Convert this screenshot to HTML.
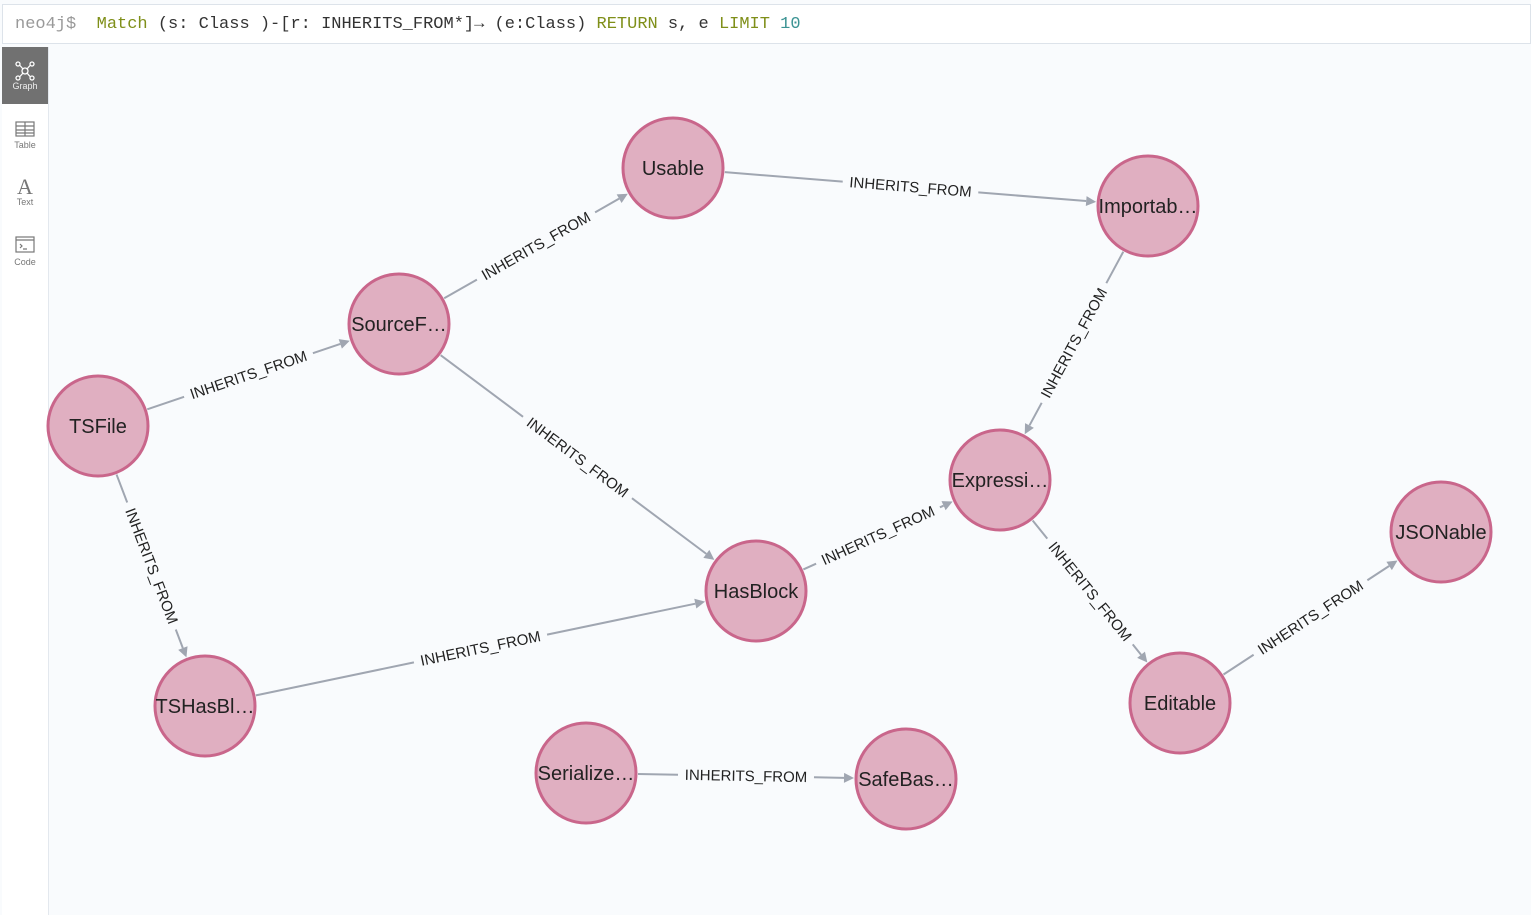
<!DOCTYPE html>
<html><head><meta charset="utf-8"><style>
html,body{margin:0;padding:0;width:1531px;height:915px;overflow:hidden;background:#f9fbfd;font-family:"Liberation Sans",sans-serif}
#top{position:absolute;left:2px;top:4px;width:1529px;height:40px;background:#fff;border:1px solid #dde3ea;box-sizing:border-box;font-family:"Liberation Mono",monospace;font-size:17px;line-height:39px;padding-left:12px;color:#333;white-space:pre}
.g{color:#999}.k{color:#7f8f19}.n{color:#3c9494}
#side{position:absolute;left:2px;top:47px;width:46px;height:868px;background:#fff;border-right:1px solid #e3e8ee}
.it{position:absolute;left:0;width:46px;text-align:center;font-size:9px;color:#777}
#cv{position:absolute;left:0;top:0}
</style></head><body>
<div id="top"><span class="g">neo4j$</span>  <span class="k">Match</span> (s: Class )-[r: INHERITS_FROM*]→ (e:Class) <span class="k">RETURN</span> s, e <span class="k">LIMIT</span> <span class="n">10</span></div>
<div id="side">
 <div class="it" style="top:0;height:57px;background:#717171;color:#eee">
  <svg width="24" height="24" viewBox="0 0 24 24" style="margin-top:12px" stroke="#fff" fill="none" stroke-width="1.3"><circle cx="12" cy="12" r="3"/><circle cx="5" cy="5" r="2"/><circle cx="19" cy="5" r="2"/><circle cx="5" cy="19" r="2"/><circle cx="19" cy="19" r="2"/><path d="M7 6.5l3 3.5M17 6.5l-3 3.5M7 17.5l3-3.5M17 17.5l-3-3.5"/></svg>
  <div style="margin-top:-4px">Graph</div></div>
 <div class="it" style="top:73px"><svg width="22" height="18" viewBox="0 0 22 18" fill="none" stroke="#777" stroke-width="1.2"><rect x="2" y="2" width="18" height="14"/><path d="M2 6h18M2 10h18M2 13h18M11 2v14"/></svg><div>Table</div></div>
 <div class="it" style="top:130px"><div style="font-family:'Liberation Serif',serif;font-size:22px;line-height:20px">A</div><div>Text</div></div>
 <div class="it" style="top:188px"><svg width="22" height="20" viewBox="0 0 22 20" fill="none" stroke="#777" stroke-width="1.2"><rect x="2" y="2" width="18" height="15"/><path d="M2 5h18M6 9l2 2-2 2M9 14h4"/></svg><div>Code</div></div>
</div>
<svg id="cv" width="1531" height="915" xmlns="http://www.w3.org/2000/svg"></svg>
<script>
var N={Usable:[673,168,"Usable"],Imp:[1148,206,"Importab…"],Src:[399,324,"SourceF…"],TS:[98,426,"TSFile"],Exp:[1000,480,"Expressi…"],JSON:[1441,532,"JSONable"],HB:[756,591,"HasBlock"],TSH:[205,706,"TSHasBl…"],Ed:[1180,703,"Editable"],Ser:[586,773,"Serialize…"],Safe:[906,779,"SafeBas…"]};
var E=[["TS","Src"],["Src","Usable"],["Usable","Imp"],["Imp","Exp"],["Src","HB"],["TS","TSH"],["TSH","HB"],["HB","Exp"],["Exp","Ed"],["Ed","JSON"],["Ser","Safe"]];
var R=52,s="";
E.forEach(function(e){
 var a=N[e[0]],b=N[e[1]],dx=b[0]-a[0],dy=b[1]-a[1],L=Math.hypot(dx,dy),ux=dx/L,uy=dy/L;
 var x1=a[0]+ux*R,y1=a[1]+uy*R,x2=b[0]-ux*R,y2=b[1]-uy*R;
 var mx=(x1+x2)/2,my=(y1+y2)/2,hw=68;
 var ax=x2-ux*10,ay=y2-uy*10;
 s+='<line x1="'+x1+'" y1="'+y1+'" x2="'+(mx-ux*hw)+'" y2="'+(my-uy*hw)+'" stroke="#a0a6b1" stroke-width="2"/>';
 s+='<line x1="'+(mx+ux*hw)+'" y1="'+(my+uy*hw)+'" x2="'+ax+'" y2="'+ay+'" stroke="#a0a6b1" stroke-width="2"/>';
 s+='<polygon points="'+x2+','+y2+' '+(ax-uy*5)+','+(ay+ux*5)+' '+(ax+uy*5)+','+(ay-ux*5)+'" fill="#a0a6b1"/>';
 var ang=Math.atan2(dy,dx)*180/Math.PI; if(ang>90)ang-=180; if(ang<-90)ang+=180;
 s+='<text x="'+mx+'" y="'+my+'" transform="rotate('+ang+' '+mx+' '+my+')" text-anchor="middle" dy="5" font-size="15" fill="#222" font-family="Liberation Sans, sans-serif">INHERITS_FROM</text>';
});
for(var k in N){var n=N[k];
 s+='<circle cx="'+n[0]+'" cy="'+n[1]+'" r="50" fill="#e0afc1" stroke="#c9668b" stroke-width="3"/>';
 s+='<text x="'+n[0]+'" y="'+(n[1]+7)+'" text-anchor="middle" font-size="20" fill="#222" font-family="Liberation Sans, sans-serif">'+n[2]+'</text>';}
document.getElementById('cv').innerHTML=s;
</script>
</body></html>
